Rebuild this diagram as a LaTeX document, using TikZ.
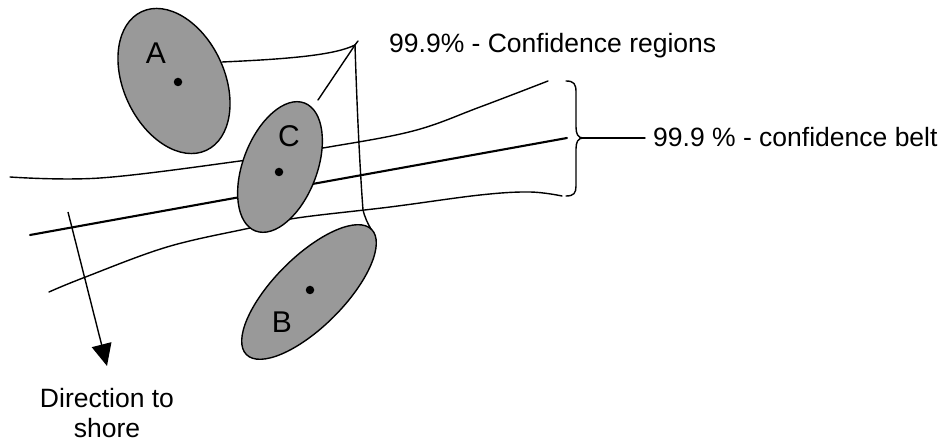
\documentclass[tikz,border=0pt]{standalone}
\usepackage{fontspec}
\setmainfont{Liberation Sans}
\usetikzlibrary{arrows.meta,shapes.geometric}
\definecolor{regfill}{RGB}{153,153,153}
\begin{document}
\begin{tikzpicture}[x=1pt,y=-1pt,
  thinline/.style={line width=1.4pt, line cap=round, line join=round},
  beltmid/.style={line width=2.1pt, line cap=round},
  region/.style={ellipse, draw, line width=1.4pt, fill=regfill, inner sep=0pt},
  centre/.style={circle, fill=black, inner sep=0pt, minimum size=8.5pt},
  lbl/.style={inner sep=0pt, font=\fontsize{30}{34}\selectfont},
  txt/.style={inner sep=0pt, font=\fontsize{26.5}{30}\selectfont}]
\useasboundingbox (0,0) rectangle (943,443);

% confidence belt
\draw[thinline] plot[smooth, tension=0.6] coordinates {(10,177) (100,178) (240,161) (323,148) (413,131) (480,107) (548,81)};
\draw[beltmid] (30,235) -- (567,138);
\draw[thinline] plot[smooth, tension=0.6] coordinates {(49,292) (83,278) (167,247) (250,228) (297,218) (390,207) (480,195) (530,192) (562,196)};

% regions
\node[region, minimum width=153pt, minimum height=101pt, rotate=-65] (A) at (174,81) {};
\node[region, minimum width=137pt, minimum height=74pt, rotate=69] (C) at (280,167) {};
\node[region, minimum width=177pt, minimum height=70pt, rotate=45] (B) at (309,292) {};

\node[centre] (a) at (178,82) {};
\node[centre] (c) at (279,172) {};
\node[centre] (b) at (310,290) {};

\node[lbl] (la) at (156,53) {A};
\node[lbl] (lc) at (289,136) {C};
\node[lbl] (lb) at (282,322) {B};

% leader lines to "confidence regions"
\coordinate (P) at (355,45);
\coordinate (Pt) at (358,41);
\coordinate (As) at (222,62);
\coordinate (Cs) at (318,100);
\coordinate (Q) at (363,210);
\coordinate (Bs) at (371,229);
\draw[thinline] (As) .. controls (290,59) and (335,55) .. (P);
\draw[thinline] (Cs) -- (P);
\draw[thinline] (P) -- (Pt);
\draw[thinline] (P) .. controls (357,110) and (360,170) .. (Q) .. controls (365,218) and (368,224) .. (Bs);

\node[txt, anchor=base west] (regions) at (389,53) {99.9\% - Confidence regions};

% brace
\coordinate (BrTop) at (566,81);
\coordinate (BrTip) at (583,138);
\coordinate (BrBot) at (566,196);
\coordinate (BrEnd) at (645,138);
\draw[thinline] (BrTop) .. controls (574,81) and (576,84) .. (576,92) -- (576,127) .. controls (576,134) and (578,138) .. (BrTip);
\draw[thinline] (BrTip) .. controls (578,138) and (576,142) .. (576,149) -- (576,186) .. controls (576,193) and (574,196) .. (BrBot);
\draw[thinline] (BrTip) -- (BrEnd);
\node[txt, anchor=base west] (belt) at (653,147) {99.9 \% - confidence belt};

% direction to shore
\coordinate (D0) at (68,212);
\node[txt, align=center, anchor=north] (shore) at (107,388) {Direction to\\shore};
\coordinate (D1) at (107,366);
\draw[line width=1.4pt, -{Triangle[length=22pt,width=20pt]}] (D0) -- (D1);
\end{tikzpicture}
\end{document}
